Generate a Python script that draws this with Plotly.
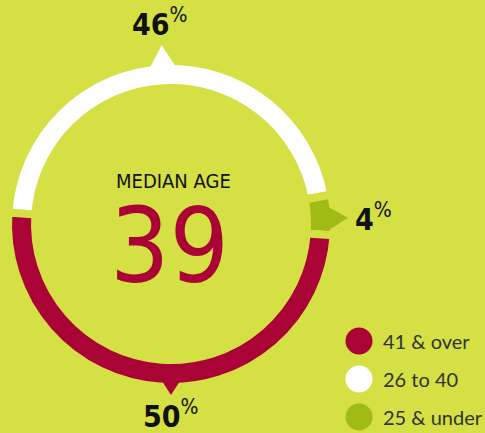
import math
import plotly.graph_objects as go

# ---- data ----
categories = ["26 to 40", "25 & under", "41 & over"]
shares = [46, 4, 50]
legend_order = ["41 & over", "26 to 40", "25 & under"]
center_title = "MEDIAN AGE"
median_age = 39

# ---- style ----
W, H = 485, 433
BG = "#d4e044"
RED = "#aa0336"
GREEN = "#a0bb14"
WHITE = "#ffffff"
colors = {"26 to 40": WHITE, "25 & under": GREEN, "41 & over": RED}
COND = "DejaVu Sans Condensed, Liberation Sans Narrow, Roboto Condensed, Roboto, sans-serif"

CX, CY = 171, 224
R_OUT, R_IN = 159, 140
GAP = 8
START_DEG = -86

pointer_angle = {"26 to 40": 93, "25 & under": 2, "41 & over": -90}
pointer_h = {"26 to 40": 20, "25 & under": 18, "41 & over": 12}
pointer_b = {"26 to 40": 26, "25 & under": 24, "41 & over": 18}
label_off = {"26 to 40": 23, "25 & under": 5, "41 & over": 19}


def px(x):
    return x / W


def py(y):
    return 1 - y / H


r_dom = R_OUT + GAP / 2
r_hole = R_IN - GAP / 2

fig = go.Figure()
fig.add_trace(go.Pie(
    values=shares,
    labels=categories,
    sort=False,
    direction="clockwise",
    rotation=START_DEG,
    hole=r_hole / r_dom,
    marker=dict(colors=[colors[c] for c in categories], line=dict(color=BG, width=GAP)),
    textinfo="none",
    hoverinfo="label+percent",
    showlegend=False,
    domain=dict(x=[px(CX - r_dom), px(CX + r_dom)], y=[py(CY + r_dom), py(CY - r_dom)]),
))

shapes = []
annotations = []

for cat, val in zip(categories, shares):
    a = math.radians(pointer_angle[cat])
    ux, uy = math.cos(a), -math.sin(a)
    vx, vy = -uy, ux
    rb = R_OUT - 2
    bx, by = CX + ux * rb, CY + uy * rb
    h, b = pointer_h[cat], pointer_b[cat]
    ax_, ay_ = CX + ux * (R_OUT + h), CY + uy * (R_OUT + h)
    p1 = (bx + vx * b / 2, by + vy * b / 2)
    p2 = (bx - vx * b / 2, by - vy * b / 2)
    path = "M {} {} L {} {} L {} {} Z".format(px(p1[0]), py(p1[1]), px(ax_), py(ay_), px(p2[0]), py(p2[1]))
    shapes.append(dict(type="path", path=path, xref="paper", yref="paper",
                       fillcolor=colors[cat], line=dict(width=0), layer="above"))
    off = label_off[cat]
    lx, ly = CX + ux * (R_OUT + h + off), CY + uy * (R_OUT + h + off)
    if abs(ux) > 0.7:
        xa = "left" if ux > 0 else "right"
    else:
        xa = "center"
    annotations.append(dict(
        x=px(lx), y=py(ly), xref="paper", yref="paper", xanchor=xa, yanchor="middle",
        text="<b>{}</b><sup>%</sup>".format(val), showarrow=False,
        font=dict(family=COND, size=30, color="#111111"),
    ))

annotations.append(dict(x=px(173), y=py(181), xref="paper", yref="paper", showarrow=False,
                        text=center_title, xanchor="center", yanchor="middle",
                        font=dict(family=COND, size=20, color="#111111")))
annotations.append(dict(x=px(169), y=py(246), xref="paper", yref="paper", showarrow=False,
                        text=str(median_age), xanchor="center", yanchor="middle",
                        font=dict(family=COND, size=104, color=RED)))

LX, LY0, LDY, LR = 359, 341, 38, 13.5
for i, cat in enumerate(legend_order):
    yy = LY0 + i * LDY
    shapes.append(dict(type="circle", xref="paper", yref="paper",
                       x0=px(LX - LR), x1=px(LX + LR), y0=py(yy + LR), y1=py(yy - LR),
                       fillcolor=colors[cat], line=dict(width=0)))
    annotations.append(dict(x=px(381), y=py(yy), xref="paper", yref="paper", showarrow=False,
                            text=cat, xanchor="left", yanchor="middle",
                            font=dict(family="Lato", size=20, color="#333333")))

fig.update_layout(
    width=W, height=H,
    margin=dict(l=0, r=0, t=0, b=0),
    paper_bgcolor=BG, plot_bgcolor=BG,
    shapes=shapes, annotations=annotations,
    showlegend=False,
)

fig.write_html("out.html", config={"displayModeBar": False})
with open("out.html", "r", encoding="utf-8") as f:
    html = f.read()
html = html.replace("<head>", "<head><style>html,body{margin:0;padding:0;overflow:hidden;}</style>", 1)
with open("out.html", "w", encoding="utf-8") as f:
    f.write(html)
